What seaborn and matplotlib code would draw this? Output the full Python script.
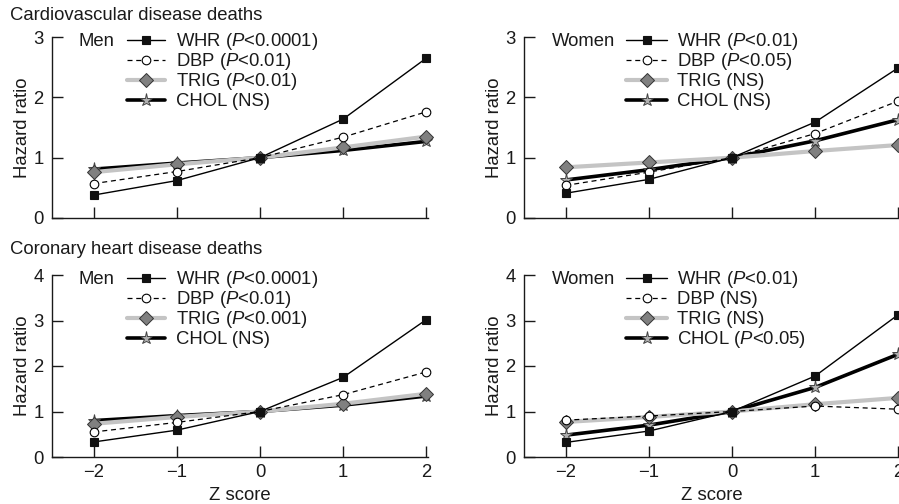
import matplotlib
matplotlib.use("Agg")
import matplotlib.pyplot as plt
import matplotlib.transforms as mtransforms
import seaborn as sns
from matplotlib.lines import Line2D

# z score positions
z = [-2, -1, 0, 1, 2]

# Cardiovascular disease deaths
cvd_men_whr = [0.38, 0.62, 1.0, 1.64, 2.65]
cvd_men_dbp = [0.57, 0.77, 1.0, 1.34, 1.76]
cvd_men_trig = [0.76, 0.89, 1.0, 1.17, 1.35]
cvd_men_chol = [0.81, 0.91, 1.0, 1.12, 1.27]

cvd_women_whr = [0.41, 0.64, 1.0, 1.59, 2.49]
cvd_women_dbp = [0.54, 0.76, 1.0, 1.40, 1.94]
cvd_women_trig = [0.84, 0.92, 1.0, 1.11, 1.21]
cvd_women_chol = [0.63, 0.80, 1.0, 1.28, 1.63]

# Coronary heart disease deaths
chd_men_whr = [0.33, 0.59, 1.0, 1.75, 3.02]
chd_men_dbp = [0.55, 0.76, 1.0, 1.37, 1.87]
chd_men_trig = [0.73, 0.88, 1.0, 1.17, 1.39]
chd_men_chol = [0.80, 0.91, 1.0, 1.14, 1.34]

chd_women_whr = [0.32, 0.57, 1.0, 1.78, 3.13]
chd_women_dbp = [0.81, 0.90, 1.0, 1.12, 1.05]
chd_women_trig = [0.77, 0.88, 1.0, 1.16, 1.30]
chd_women_chol = [0.48, 0.70, 1.0, 1.53, 2.26]

# legend labels per panel
cvd_men_labels = ["WHR ($\\mathit{P}$<0.0001)", "DBP ($\\mathit{P}$<0.01)",
                  "TRIG ($\\mathit{P}$<0.01)", "CHOL (NS)"]
cvd_women_labels = ["WHR ($\\mathit{P}$<0.01)", "DBP ($\\mathit{P}$<0.05)",
                    "TRIG (NS)", "CHOL (NS)"]
chd_men_labels = ["WHR ($\\mathit{P}$<0.0001)", "DBP ($\\mathit{P}$<0.01)",
                  "TRIG ($\\mathit{P}$<0.001)", "CHOL (NS)"]
chd_women_labels = ["WHR ($\\mathit{P}$<0.01)", "DBP (NS)",
                    "TRIG (NS)", "CHOL ($\\mathit{P}$<0.05)"]

sns.set_style("ticks")
plt.rcParams["font.family"] = ["Liberation Sans", "DejaVu Sans"]
plt.rcParams["mathtext.fontset"] = "custom"
plt.rcParams["mathtext.it"] = "Liberation Sans:italic"
plt.rcParams["mathtext.rm"] = "Liberation Sans"
plt.rcParams["axes.unicode_minus"] = True
INK = "#1a1a1a"
plt.rcParams["text.color"] = INK
plt.rcParams["axes.labelcolor"] = INK
plt.rcParams["xtick.labelcolor"] = INK
plt.rcParams["ytick.labelcolor"] = INK

FS = 13.3

# series styles: WHR, DBP, TRIG, CHOL
styles = [
    dict(color="black", lw=1.0, ls="-", marker="s", ms=6.2, mfc="#111111", mec="#111111", mew=0.8, zorder=5),
    dict(color="black", lw=0.9, ls=(0, (4, 3)), marker="o", ms=6.2, mfc="white", mec="black", mew=0.8, zorder=4),
    dict(color="#c4c4c4", lw=3.0, ls="-", marker="D", ms=7, mfc="#808080", mec="#333333", mew=0.7, zorder=3),
    dict(color="black", lw=2.6, ls="-", marker="*", ms=9.5, mfc="#b0b0b0", mec="#444444", mew=0.7, zorder=2),
]

fig = plt.figure(figsize=(8.99, 5.04), dpi=100)

W = 376 / 899
H_top = 181 / 504
H_bot = 182 / 504
ax_tl = fig.add_axes([52 / 899, 1 - 218 / 504, W, H_top])
ax_tr = fig.add_axes([524 / 899, 1 - 218 / 504, W, H_top])
ax_bl = fig.add_axes([52 / 899, 1 - 457 / 504, W, H_bot])
ax_br = fig.add_axes([524 / 899, 1 - 457 / 504, W, H_bot])

panels = [
    (ax_tl, [cvd_men_whr, cvd_men_dbp, cvd_men_trig, cvd_men_chol], cvd_men_labels, "Men", 3, False),
    (ax_tr, [cvd_women_whr, cvd_women_dbp, cvd_women_trig, cvd_women_chol], cvd_women_labels, "Women", 3, False),
    (ax_bl, [chd_men_whr, chd_men_dbp, chd_men_trig, chd_men_chol], chd_men_labels, "Men", 4, True),
    (ax_br, [chd_women_whr, chd_women_dbp, chd_women_trig, chd_women_chol], chd_women_labels, "Women", 4, True),
]

# legend row centres, in pixels below the top of the axes
row_dy = [3, 23, 43, 63]

for ax, series, labels, sex, ymax, bottom in panels:
    # draw CHOL first so WHR ends up on top
    for vals, st in list(zip(series, styles))[::-1]:
        sns.lineplot(x=z, y=vals, ax=ax, color=st["color"], linewidth=st["lw"],
                     linestyle=st["ls"], marker=st["marker"], markersize=st["ms"],
                     markerfacecolor=st["mfc"], markeredgecolor=st["mec"],
                     markeredgewidth=st["mew"], zorder=st["zorder"],
                     clip_on=False)
    ax.set_xlim(-2.5, 2.02)
    ax.set_ylim(0, ymax)
    ax.set_xticks(z)
    ax.set_yticks(range(ymax + 1))
    sns.despine(ax=ax)
    for sp in ax.spines.values():
        sp.set_linewidth(1.0)
        sp.set_color(INK)
    ax.tick_params(axis="both", direction="in", length=8, width=1.0,
                   labelsize=FS, pad=5, color=INK)
    ax.tick_params(axis="y", pad=6)
    if bottom:
        ax.set_xlabel("Z score", fontsize=FS, labelpad=4)
    else:
        ax.set_xticklabels([])
        ax.set_xlabel("")
    ax.set_ylabel("Hazard ratio", fontsize=FS, labelpad=2)

    # hand-built legend (pixel offsets from the axes' top-left corner)
    if sex == "Men":
        h0, h1, tx0, sx = 75, 113, 124, 27
    else:
        h0, h1, tx0, sx = 102, 143, 153, 28
    bw = ax.get_window_extent().width
    for dy, lab, st in zip(row_dy, labels, styles):
        tr = mtransforms.offset_copy(ax.transAxes, fig=fig, x=0, y=-dy, units="dots")
        ax.add_line(Line2D([h0 / bw, h1 / bw], [1, 1], color=st["color"], lw=st["lw"],
                           ls=st["ls"], transform=tr, clip_on=False, zorder=6))
        ax.add_line(Line2D([(h0 + h1) / 2 / bw], [1], ls="none", marker=st["marker"],
                           ms=st["ms"], mfc=st["mfc"], mec=st["mec"], mew=st["mew"],
                           transform=tr, clip_on=False, zorder=7))
        trt = mtransforms.offset_copy(ax.transAxes, fig=fig, x=0, y=-dy - 6.5, units="dots")
        ax.text(tx0 / bw, 1, lab, transform=trt, fontsize=FS,
                ha="left", va="baseline")
    trs = mtransforms.offset_copy(ax.transAxes, fig=fig, x=0, y=-row_dy[0] - 6.5, units="dots")
    ax.text(sx / bw, 1, sex, transform=trs, fontsize=FS, ha="left", va="baseline")

fig.text(10 / 899, 1 - 15 / 504, "Cardiovascular disease deaths", fontsize=FS,
         ha="left", va="center")
fig.text(10 / 899, 1 - 250 / 504, "Coronary heart disease deaths", fontsize=FS,
         ha="left", va="center")

fig.savefig("out.png", dpi=100)
